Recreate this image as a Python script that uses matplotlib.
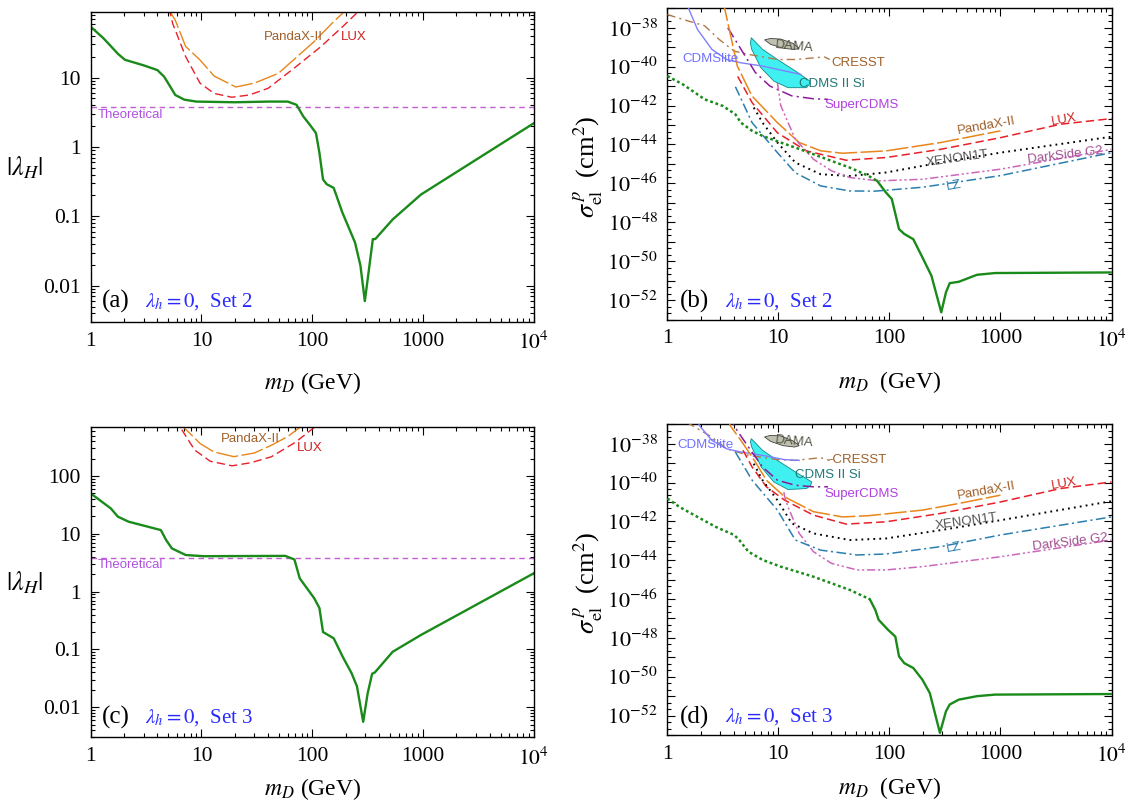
import numpy as np
import matplotlib
matplotlib.use("Agg")
import matplotlib.pyplot as plt
from matplotlib.ticker import FixedLocator, NullFormatter, LogLocator
from matplotlib.patches import Polygon

plt.rcParams['font.family'] = ['Liberation Serif', 'DejaVu Serif']
plt.rcParams['mathtext.fontset'] = 'stix'
plt.rcParams['lines.scale_dashes'] = False

# ---------------- data: panel (a) ----------------
m_a = [1, 1.3, 1.5, 1.76, 2.04, 3, 4, 4.6, 5.2, 5.8, 7, 9, 20, 40, 60, 72, 83, 97, 108,
       116, 125, 135, 156, 187, 243, 272, 298, 328, 352, 370, 531, 957, 10000]
lam_a = [54, 37, 29, 22, 18, 15, 12.8, 10.3, 7.5, 5.6, 4.8, 4.5, 4.4, 4.5, 4.5, 4.05, 2.75, 2.0, 1.58,
         0.82, 0.34, 0.29, 0.257, 0.113, 0.042, 0.0195, 0.006, 0.0195, 0.047, 0.047, 0.09, 0.206, 2.2]
panda_a_m = [5.0, 5.8, 7.2, 9.7, 13, 20.4, 30, 49.5, 104, 150, 210]
panda_a_l = [100, 67, 28, 17.9, 10.5, 7.3, 8.3, 11.5, 33, 60, 100]
lux_a_m = [5.1, 5.5, 7.2, 9.7, 13, 18.8, 27, 40, 70, 120, 190, 280]
lux_a_l = [100, 60, 20, 8.3, 5.9, 5.2, 5.6, 7.0, 14, 28, 55, 100]

# ---------------- data: panel (c) ----------------
m_c = [1, 1.52, 1.76, 2.2, 4.3, 4.8, 5.4, 7.2, 10.4, 57, 69, 77, 104, 116, 125, 156, 188,
       226, 253, 288, 316, 347, 367, 531, 957, 10000]
lam_c = [50, 27.5, 19.8, 16.2, 11.6, 7.8, 5.6, 4.3, 4.1, 4.15, 3.6, 1.7, 0.77, 0.52, 0.2, 0.156, 0.075,
         0.039, 0.023, 0.0056, 0.0174, 0.038, 0.04, 0.091, 0.178, 2.08]
panda_c_m = [6.5, 6.95, 9.7, 13, 19.6, 30, 42.7, 60, 77, 85]
panda_c_l = [1000, 690, 365, 260, 216, 250, 340, 480, 690, 900]
lux_c_m = [6.0, 6.45, 8.7, 12, 18.9, 28, 42.7, 70, 104, 115]
lux_c_l = [1000, 690, 280, 180, 150, 170, 215, 380, 690, 900]

theory_lam = 3.75

# ---------------- data: panel (b) (log10 sigma) ----------------
gb_dot_m = [1, 1.38, 2.17, 3.16, 4.1, 4.6, 5.8, 7.2, 10.5, 14.2, 20.7, 30.2, 44, 64, 77.5]
gb_dot_s = [-40.48, -40.91, -41.68, -42.02, -42.45, -42.88, -43.3, -43.56, -43.9, -44.16, -44.5,
            -44.85, -45.19, -45.6, -45.87]
gb_sol_m = [77.5, 93, 105, 122, 136, 164, 198, 239, 293, 323, 349, 421, 615, 897, 10000]
gb_sol_s = [-45.87, -46.47, -46.8, -48.35, -48.6, -48.87, -49.8, -50.75, -52.63, -51.6, -51.13,
            -51.06, -50.7, -50.61, -50.58]
panda_b_m = [3.2, 3.28, 4.27, 5.77, 9.8, 15.4, 24.2, 37.8, 93.5, 289, 1000]
panda_b_s = [-36.5, -37.0, -39.97, -41.5, -42.88, -43.9, -44.33, -44.45, -44.33, -43.9, -43.3]
lux_b_m = [4.3, 5.8, 9.8, 17.9, 40.8, 93.5, 289, 1000, 3460, 10000]
lux_b_s = [-40.5, -41.85, -43.4, -44.33, -44.81, -44.67, -44.25, -43.65, -42.96, -42.67]
xe_b_m = [6, 7.2, 9.8, 14.2, 24, 44, 93.5, 289, 1000, 10000]
xe_b_s = [-42.1, -42.88, -43.9, -44.93, -45.53, -45.62, -45.44, -44.93, -44.42, -43.6]
lz_b_m = [4.1, 5.8, 9.8, 14.2, 24, 44, 74, 198, 1000, 10000]
lz_b_s = [-41.03, -42.88, -44.42, -45.45, -46.13, -46.39, -46.4, -46.2, -45.6, -44.42]
ds_b_m = [9.8, 10.5, 14.2, 20.7, 30.2, 44, 80, 198, 1000, 10000]
ds_b_s = [-40.82, -42.0, -43.73, -44.76, -45.36, -45.7, -45.87, -45.79, -45.27, -44.25]
sc_b_m = [3.5, 4.6, 6.2, 8.4, 13.2, 20.7, 28]
sc_b_s = [-38.0, -39.1, -40.3, -41.0, -41.5, -41.65, -41.68]
cl_b_m = [1.5, 1.55, 1.87, 2.52, 3.41, 4.6, 7.2, 11.4, 16]
cl_b_s = [-36.5, -37.0, -38.09, -39.11, -39.63, -39.8, -39.97, -40.22, -40.4]
cr_b_m = [1, 1.38, 2.17, 2.93, 4, 5.4, 9.8, 14.2, 26, 29]
cr_b_s = [-37.32, -37.57, -37.9, -38.6, -39.2, -39.37, -39.63, -39.63, -39.5, -39.63]
dama_b_m = [7.5, 8.5, 10.5, 13.5, 15.4, 14.0, 11.0, 8.5, 7.5]
dama_b_s = [-38.62, -38.55, -38.58, -38.8, -39.05, -39.12, -39.05, -38.85, -38.62]
cdms_b_m = [5.7, 7.2, 9.8, 14.2, 19.2, 19.0, 17.9, 12.2, 9.1, 6.95, 5.75, 5.6, 5.7]
cdms_b_s = [-38.51, -39.11, -39.63, -40.22, -40.74, -40.9, -41.08, -41.08, -40.74, -40.05, -39.11, -38.8, -38.51]

# ---------------- data: panel (d) (log10 sigma) ----------------
gd_dot_m = [1, 1.28, 1.87, 2.72, 4, 4.44, 5.37, 7.24, 10.5, 20.7, 44, 66.6]
gd_dot_s = [-40.82, -41.25, -41.77, -42.28, -42.7, -42.96, -43.56, -43.99, -44.33, -44.85, -45.53, -46.01]
gd_sol_m = [66.6, 74.6, 80, 97, 113, 122, 136, 164, 198, 231, 285, 323, 349, 421, 615, 897, 10000]
gd_sol_s = [-46.01, -46.56, -47.07, -47.58, -47.93, -48.95, -49.3, -49.55, -50.15, -50.84, -52.89,
            -51.78, -51.43, -51.18, -51.0, -50.92, -50.89]
panda_d_m = [3.5, 3.67, 4.6, 6.2, 7.8, 11.4, 20.7, 37.8, 64, 198, 420, 1000]
panda_d_s = [-36.5, -37.06, -37.83, -38.94, -39.88, -40.74, -41.5, -41.77, -41.71, -41.42, -41.08, -40.65]
lux_d_m = [4.8, 5.8, 7.8, 11.4, 20.7, 40.8, 93.5, 289, 1000, 3460, 10000]
lux_d_s = [-38.34, -39.2, -40.22, -40.91, -41.68, -42.14, -42.02, -41.59, -41.0, -40.31, -39.97]
xe_d_m = [6, 7.2, 9.8, 13.2, 20.7, 44, 93, 289, 1000, 10000]
xe_d_s = [-39.03, -39.88, -40.91, -42.1, -42.62, -42.96, -42.88, -42.45, -41.94, -40.96]
lz_d_m = [4.1, 5.8, 9.8, 14.2, 24, 51, 93, 289, 1000, 10000]
lz_d_s = [-38.43, -39.88, -41.42, -42.96, -43.48, -43.73, -43.68, -43.3, -42.7, -41.77]
ds_d_m = [11.2, 11.4, 12.2, 15.4, 20.7, 30, 51, 93, 198, 1000, 10000]
ds_d_s = [-40.5, -40.74, -41.25, -42.62, -43.56, -44.16, -44.5, -44.5, -44.33, -43.82, -42.96]
sc_d_m = [3.8, 3.96, 5.37, 7.2, 9.8, 14.2, 20.7, 28]
sc_d_s = [-36.5, -37.06, -38.17, -39.2, -39.88, -40.14, -40.22, -40.22]
cl_d_m = [1.85, 1.94, 2.52, 3.41, 4.6, 7.2, 11.4, 15.4]
cl_d_s = [-36.5, -37.06, -37.83, -38.26, -38.43, -38.6, -38.82, -38.86]
cr_d_m = [1.5, 1.67, 2.52, 3.41, 5.37, 9.8, 14.2, 24, 29]
cr_d_s = [-36.9, -37.06, -37.66, -38.26, -38.6, -38.82, -38.86, -38.72, -38.86]
dama_d_m = [7.5, 8.5, 10.5, 13.5, 15.4, 14.0, 11.0, 8.5, 7.5]
dama_d_s = [-37.65, -37.57, -37.6, -37.85, -38.1, -38.17, -38.1, -37.88, -37.65]
cdms_d_m = [5.7, 7.2, 9.8, 14.2, 20, 19.5, 17.9, 12.2, 9.1, 7.0, 5.75, 5.6, 5.7]
cdms_d_s = [-37.74, -38.34, -38.86, -39.45, -39.97, -40.15, -40.31, -40.36, -39.97, -39.2, -38.17, -37.9, -37.74]

x_ticks = [1, 10, 100, 1000, 1e4]
x_ticklabels = ['1', '10', '100', '1000', r'$10^4$']

# ---------------- styles ----------------
GREEN = '#1a8a1a'
C_PANDA = '#e8861a'
C_LUX = '#e8202a'
C_XE = 'black'
C_LZ = '#2a7fb0'
C_DS = '#cc66bb'
C_SC = '#8b1a9a'
C_CL = '#8080ff'
C_CR = '#b07a48'
C_TH = '#c060d0'
TXT_BLUE = '#2a2aff'

fig = plt.figure(figsize=(11.29, 8.01), dpi=100)
ax_a = fig.add_axes([0.0803, 0.598, 0.3926, 0.3864])
ax_b = fig.add_axes([0.5911, 0.6011, 0.3934, 0.3885])
ax_c = fig.add_axes([0.0803, 0.0793, 0.3926, 0.387])
ax_d = fig.add_axes([0.5911, 0.0824, 0.3934, 0.3879])

lab_font = dict(family=['Liberation Sans Narrow', 'Liberation Sans', 'DejaVu Sans'], fontsize=9.5)


def style_axes(ax):
    ax.set_xscale('log')
    ax.set_yscale('log')
    ax.set_xlim(1, 1e4)
    ax.xaxis.set_major_locator(FixedLocator(x_ticks))
    ax.set_xticklabels(x_ticklabels)
    ax.xaxis.set_minor_locator(LogLocator(base=10, subs=np.arange(2, 10)))
    ax.xaxis.set_minor_formatter(NullFormatter())
    ax.tick_params(which='both', direction='in', top=True, right=True, labelsize=15.5, width=0.8)
    ax.tick_params(which='major', length=6, pad=7)
    ax.tick_params(which='minor', length=3)
    for s in ax.spines.values():
        s.set_linewidth(1.0)


def panel_lambda(ax, m, lam, pm, pl, lm, ll, ylim, yticks, ylabels, tag, setname, plab, llab):
    style_axes(ax)
    ax.set_ylim(*ylim)
    ax.yaxis.set_major_locator(FixedLocator(yticks))
    ax.set_yticklabels(ylabels)
    ax.yaxis.set_minor_locator(LogLocator(base=10, subs=np.arange(2, 10)))
    ax.yaxis.set_minor_formatter(NullFormatter())
    ax.axhline(theory_lam, color=C_TH, lw=1.0, dashes=(4, 3))
    ax.plot(pm, pl, color=C_PANDA, lw=1.0, dashes=(16, 2.5))
    ax.plot(lm, ll, color=C_LUX, lw=1.0, dashes=(6, 3))
    ax.plot(m, lam, color=GREEN, lw=1.7)
    ax.text(1.15, 2.85, 'Theoretical', color='#b050e0', va='center', ha='left', **lab_font)
    ax.text(plab[0], plab[1], 'PandaX-II', color='#a0602a', va='center', ha='left', **lab_font)
    ax.text(llab[0], llab[1], 'LUX', color='#d02020', va='center', ha='left', **lab_font)
    ax.text(0.025, 0.065, tag, transform=ax.transAxes, fontsize=18, va='center', ha='left')
    ax.text(0.123, 0.065, r'$\lambda_h = 0$,  Set ' + setname, transform=ax.transAxes,
            fontsize=15, color=TXT_BLUE, va='center', ha='left')
    ax.set_ylabel(r'$|\lambda_H|$', fontsize=19, rotation=0, va='center', ha='center')
    ax.yaxis.set_label_coords(-0.148, 0.5)
    ax.set_xlabel(r'$m_D$ (GeV)', fontsize=17)


def panel_sigma(ax, d, tag, setname, labels):
    style_axes(ax)
    ax.set_ylim(1e-53, 1e-37)
    exps = list(range(-53, -36))
    ax.yaxis.set_major_locator(FixedLocator([10.0 ** e for e in exps]))
    ax.set_yticklabels([r'$10^{%d}$' % e if e % 2 == 0 else '' for e in exps])
    thirds = [10.0 ** (e + f) for e in range(-53, -37) for f in (1 / 3, 2 / 3)]
    ax.yaxis.set_minor_locator(FixedLocator(thirds))
    ax.yaxis.set_minor_formatter(NullFormatter())
    ax.tick_params(axis='y', which='major', labelsize=16)

    def P(m, s, **kw):
        ax.plot(m, 10.0 ** np.asarray(s), **kw)

    ax.add_patch(Polygon(np.column_stack([d['cdms_m'], 10.0 ** np.asarray(d['cdms_s'])]),
                         closed=True, facecolor='#40f0f0', edgecolor='#108888', lw=0.6, zorder=2))
    ax.add_patch(Polygon(np.column_stack([d['dama_m'], 10.0 ** np.asarray(d['dama_s'])]),
                         closed=True, facecolor='#c0c0b0', edgecolor='#404040', lw=0.6, zorder=2))
    P(d['cr_m'], d['cr_s'], color=C_CR, lw=1.0, dashes=(6, 3, 1.5, 3), zorder=3)
    P(d['cl_m'], d['cl_s'], color=C_CL, lw=1.0, zorder=3)
    P(d['sc_m'], d['sc_s'], color=C_SC, lw=1.1, dashes=(8, 3, 1.5, 3), zorder=3)
    P(d['panda_m'], d['panda_s'], color=C_PANDA, lw=1.1, dashes=(16, 2.5), zorder=3)
    P(d['lux_m'], d['lux_s'], color=C_LUX, lw=1.1, dashes=(6, 3), zorder=3)
    P(d['xe_m'], d['xe_s'], color=C_XE, lw=1.4, dashes=(1.3, 3), zorder=3)
    P(d['ds_m'], d['ds_s'], color=C_DS, lw=1.1, dashes=(6, 2, 1.5, 2, 1.5, 2), zorder=3)
    P(d['lz_m'], d['lz_s'], color=C_LZ, lw=1.1, dashes=(7, 2.5, 1.5, 2.5), zorder=3)
    P(d['g_dot_m'], d['g_dot_s'], color=GREEN, lw=1.8, dashes=(2, 2), zorder=4)
    P(d['g_sol_m'], d['g_sol_s'], color=GREEN, lw=1.7, zorder=4)

    for (txt, xm, ls, col, rot) in labels:
        ax.text(xm, 10.0 ** ls, txt, color=col, rotation=rot, rotation_mode='anchor',
                va='center', ha='left', zorder=5, **lab_font)
    ax.text(0.028, 0.058, tag, transform=ax.transAxes, fontsize=18, va='center', ha='left')
    ax.text(0.13, 0.058, r'$\lambda_h = 0$,  Set ' + setname, transform=ax.transAxes,
            fontsize=15, color=TXT_BLUE, va='center', ha='left')
    ax.set_ylabel(r'$\sigma^{\,p}_{\rm el}$  (cm$^2$)', fontsize=19)
    ax.yaxis.set_label_coords(-0.14, 0.49)
    ax.set_xlabel(r'$m_D$  (GeV)', fontsize=17)


panel_lambda(ax_a, m_a, lam_a, panda_a_m, panda_a_l, lux_a_m, lux_a_l,
             (3e-3, 86.5), [0.01, 0.1, 1, 10], ['0.01', '0.1', '1', '10'], '(a)', '2',
             (36.5, 38.7), (182, 38.7))
panel_lambda(ax_c, m_c, lam_c, panda_c_m, panda_c_l, lux_c_m, lux_c_l,
             (3e-3, 690), [0.01, 0.1, 1, 10, 100], ['0.01', '0.1', '1', '10', '100'], '(c)', '3',
             (15.1, 430), (72, 300))
ax_a.xaxis.set_label_coords(0.5, -0.155)
ax_c.xaxis.set_label_coords(0.5, -0.125)

data_b = dict(g_dot_m=gb_dot_m, g_dot_s=gb_dot_s, g_sol_m=gb_sol_m, g_sol_s=gb_sol_s,
              panda_m=panda_b_m, panda_s=panda_b_s, lux_m=lux_b_m, lux_s=lux_b_s,
              xe_m=xe_b_m, xe_s=xe_b_s, lz_m=lz_b_m, lz_s=lz_b_s, ds_m=ds_b_m, ds_s=ds_b_s,
              sc_m=sc_b_m, sc_s=sc_b_s, cl_m=cl_b_m, cl_s=cl_b_s, cr_m=cr_b_m, cr_s=cr_b_s,
              dama_m=dama_b_m, dama_s=dama_b_s, cdms_m=cdms_b_m, cdms_s=cdms_b_s)
data_d = dict(g_dot_m=gd_dot_m, g_dot_s=gd_dot_s, g_sol_m=gd_sol_m, g_sol_s=gd_sol_s,
              panda_m=panda_d_m, panda_s=panda_d_s, lux_m=lux_d_m, lux_s=lux_d_s,
              xe_m=xe_d_m, xe_s=xe_d_s, lz_m=lz_d_m, lz_s=lz_d_s, ds_m=ds_d_m, ds_s=ds_d_s,
              sc_m=sc_d_m, sc_s=sc_d_s, cl_m=cl_d_m, cl_s=cl_d_s, cr_m=cr_d_m, cr_s=cr_d_s,
              dama_m=dama_d_m, dama_s=dama_d_s, cdms_m=cdms_d_m, cdms_s=cdms_d_s)

labels_b = [('DAMA', 9.3, -38.9, '#555544', -5), ('CRESST', 30, -39.8, '#a0602a', 0),
            ('CDMSlite', 1.36, -39.63, '#7070ff', 0), ('CDMS II Si', 15.4, -40.9, '#207878', 0),
            ('SuperCDMS', 26, -41.99, '#b040e0', 0), ('PandaX-II', 405, -43.3, '#a0602a', 10),
            ('LUX', 2865, -42.85, '#d02020', 10), ('XENON1T', 214, -44.95, '#555555', 8),
            ('DarkSide G2', 1760, -44.8, '#a05090', 7), ('LZ', 323, -46.2, '#2a7fb0', 10)]
labels_d = [('DAMA', 9.3, -37.83, '#555544', -5), ('-CRESST', 28, -38.86, '#a0602a', 0),
            ('CDMSlite', 1.23, -38.05, '#7070ff', 0), ('CDMS II Si', 14, -39.63, '#207878', 0),
            ('SuperCDMS', 26, -40.57, '#b040e0', 0), ('PandaX-II', 405, -40.67, '#a0602a', 10),
            ('LUX', 2865, -40.2, '#d02020', 10), ('XENON1T', 257, -42.25, '#555555', 8),
            ('DarkSide G2', 1950, -43.3, '#a05090', 7), ('LZ', 323, -43.45, '#2a7fb0', 10)]

panel_sigma(ax_b, data_b, '(b)', '2', labels_b)
panel_sigma(ax_d, data_d, '(d)', '3', labels_d)
ax_b.xaxis.set_label_coords(0.5, -0.16)
ax_d.xaxis.set_label_coords(0.5, -0.13)

fig.savefig('out.png', dpi=100)
